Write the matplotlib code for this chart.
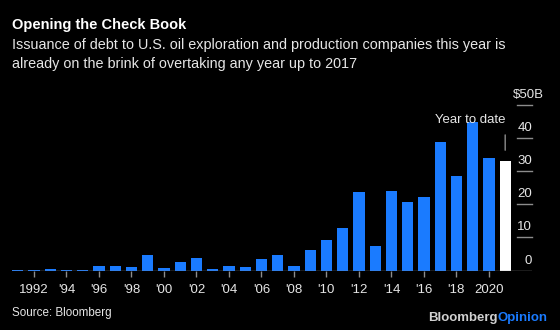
import matplotlib
matplotlib.use('Agg')
import matplotlib.pyplot as plt

# Data: debt issuance to U.S. E&P companies, $B (2021 = year to date)
years = list(range(1991, 2022))
issuance = [0.2, 0.1, 0.5, 0.1, 0.2, 1.5, 1.5, 1.2, 4.8, 0.9,
            2.5, 3.8, 0.5, 1.3, 1.0, 3.6, 4.6, 1.5, 6.3, 9.3,
            12.9, 23.7, 7.4, 23.9, 20.7, 22.1, 38.9, 28.7, 44.8, 33.9,
            33.1]
xtick_years = list(range(1992, 2021, 2))
xtick_labels = ['1992', "'94", "'96", "'98", "'00", "'02", "'04", "'06", "'08",
                "'10", "'12", "'14", "'16", "'18", '2020']
ytick_values = [0, 10, 20, 30, 40, 50]
ytick_labels = ['0', '10', '20', '30', '40', '$50B']

BLUE = '#1a7bff'
BG = 'black'
TXT = '#e6e6e6'
GREY = '#8c8c8c'
W, H = 560, 330
PX_PER_YEAR = 16.25

plt.rcParams['font.family'] = ['Liberation Sans', 'DejaVu Sans']

fig = plt.figure(figsize=(5.6, 3.3), dpi=100, facecolor=BG)
ax = fig.add_axes([12 / W, 1 - 270.5 / H, 520 / W, 165.5 / H], facecolor=BG)

colors = [BLUE] * (len(years) - 1) + ['white']
ax.bar(years, issuance, width=0.69, color=colors, zorder=2)

ax.set_xlim(1990.65, 2022.65)
ax.set_ylim(0, 50)
for s in ax.spines.values():
    s.set_visible(False)
ax.axhline(0, color=GREY, lw=1, zorder=3)

# x ticks
ax.set_xticks(xtick_years)
ax.set_xticklabels(xtick_labels, color=TXT, fontsize=9.5)
ax.tick_params(axis='x', length=4, width=1, color=GREY, pad=6)
ax.set_yticks([])

# y ticks on right: short line with label above
x0 = 2021 + (517 - 505) / PX_PER_YEAR
x1 = 2021 + (532 - 505) / PX_PER_YEAR
for v, lab in zip(ytick_values, ytick_labels):
    if v > 0:
        ax.plot([x0, x1], [v, v], color=GREY, lw=1, clip_on=False)
    xa = x1 + (12 / PX_PER_YEAR if lab.startswith('$') else 0)
    ax.text(xa, v + 1.2, lab, color=TXT, fontsize=9.5, ha='right', va='bottom',
            clip_on=False)

# annotation
ax.annotate('', xy=(2021, 35.5), xytext=(2021, 41.8),
            arrowprops=dict(arrowstyle='-', color=GREY, lw=1))
ax.text(2021 + (470 - 505) / PX_PER_YEAR, 45.4, 'Year to date', color=TXT,
        fontsize=9.5, ha='center', va='center', zorder=4)

# titles
fig.text(12 / W, 1 - 25 / H, 'Opening the Check Book', color='white',
         fontsize=10.5, fontweight='bold', va='center')
fig.text(12 / W, 1 - 45 / H,
         'Issuance of debt to U.S. oil exploration and production companies this year is',
         color=TXT, fontsize=10.4, va='center')
fig.text(12 / W, 1 - 64 / H, 'already on the brink of overtaking any year up to 2017',
         color=TXT, fontsize=10.4, va='center')

# footer
fig.text(12 / W, 1 - 313 / H, 'Source: Bloomberg', color=TXT, fontsize=8.4,
         va='center')
fig.text(498 / W, 1 - 318 / H, 'Bloomberg', color='#d0d0d0', fontsize=9.5,
         fontweight='bold', va='center', ha='right')
fig.text(498 / W, 1 - 318 / H, 'Opinion', color=BLUE, fontsize=9.5,
         fontweight='bold', va='center', ha='left')

fig.savefig('out.png', dpi=100, facecolor=BG)
